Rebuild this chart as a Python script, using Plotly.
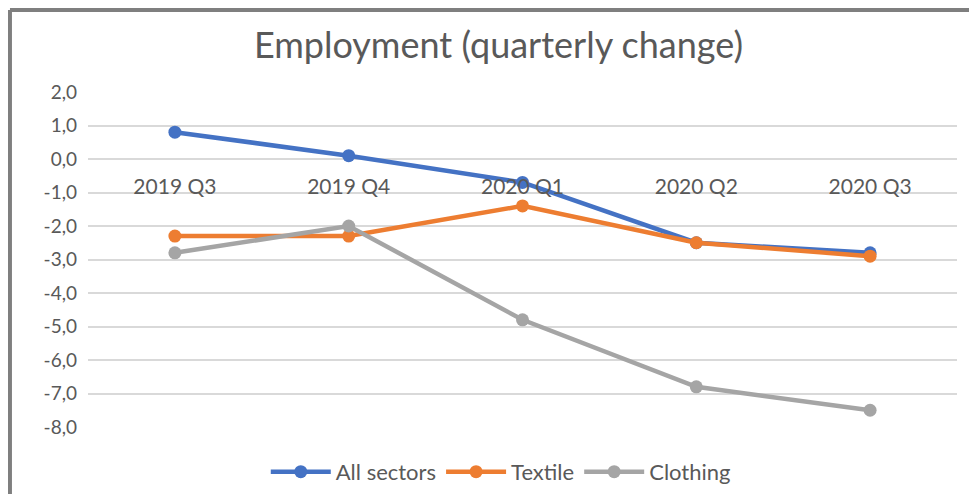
import plotly.graph_objects as go

categories = ["2019 Q3", "2019 Q4", "2020 Q1", "2020 Q2", "2020 Q3"]
all_sectors = [0.8, 0.1, -0.7, -2.5, -2.8]
textile = [-2.3, -2.3, -1.4, -2.5, -2.9]
clothing = [-2.8, -2.0, -4.8, -6.8, -7.5]
y_tick_values = [2, 1, 0, -1, -2, -3, -4, -5, -6, -7, -8]
y_tick_labels = ["2,0", "1,0", "0,0", "-1,0", "-2,0", "-3,0", "-4,0", "-5,0", "-6,0", "-7,0", "-8,0"]

series = [
    ("All sectors", all_sectors, "#4472C4"),
    ("Textile", textile, "#ED7D31"),
    ("Clothing", clothing, "#A5A5A5"),
]

fig = go.Figure()
for name, vals, col in series:
    fig.add_trace(go.Scatter(
        x=categories, y=vals, name=name, mode="lines+markers",
        line=dict(color=col, width=4.5), marker=dict(color=col, size=13),
    ))

font_family = "Lato, 'Open Sans', sans-serif"
fig.update_layout(
    width=977, height=494,
    paper_bgcolor="white", plot_bgcolor="white",
    margin=dict(l=80, r=28, t=84, b=75, autoexpand=False),
    font=dict(family=font_family, color="#595959"),
    title=dict(text="Employment (quarterly change)", x=0.502, xanchor="center",
               y=0.925, yanchor="middle",
               font=dict(size=36, color="#595959", family=font_family)),
    showlegend=True,
    legend=dict(orientation="h", x=0.475, xanchor="center", y=-0.134, yanchor="middle",
                font=dict(size=22, color="#595959"), itemwidth=60),
    xaxis=dict(type="category", range=[-0.5, 4.5], anchor="free", position=0.8,
               showgrid=False, automargin=False,
               showline=False, zeroline=False, ticks="outside", ticklen=9,
               tickcolor="rgba(0,0,0,0)", tickfont=dict(size=21, color="#595959")),
    yaxis=dict(range=[-8, 2], tickvals=y_tick_values, ticktext=y_tick_labels,
               showgrid=True, automargin=False,
               gridcolor="#D9D9D9", gridwidth=1.5, zeroline=False, showline=False,
               ticklabelstandoff=10, tickfont=dict(size=19, color="#595959")),
)

# outer chart border (top and left edges visible)
fig.add_shape(type="line", xref="paper", yref="paper", x0=-0.0898, x1=1.05,
              y0=1.2448, y1=1.2448, line=dict(color="#7F7F7F", width=4))
fig.add_shape(type="line", xref="paper", yref="paper", x0=-0.0898, x1=-0.0898,
              y0=1.2448, y1=-0.25, line=dict(color="#7F7F7F", width=4))

fig.write_html("out.html")
